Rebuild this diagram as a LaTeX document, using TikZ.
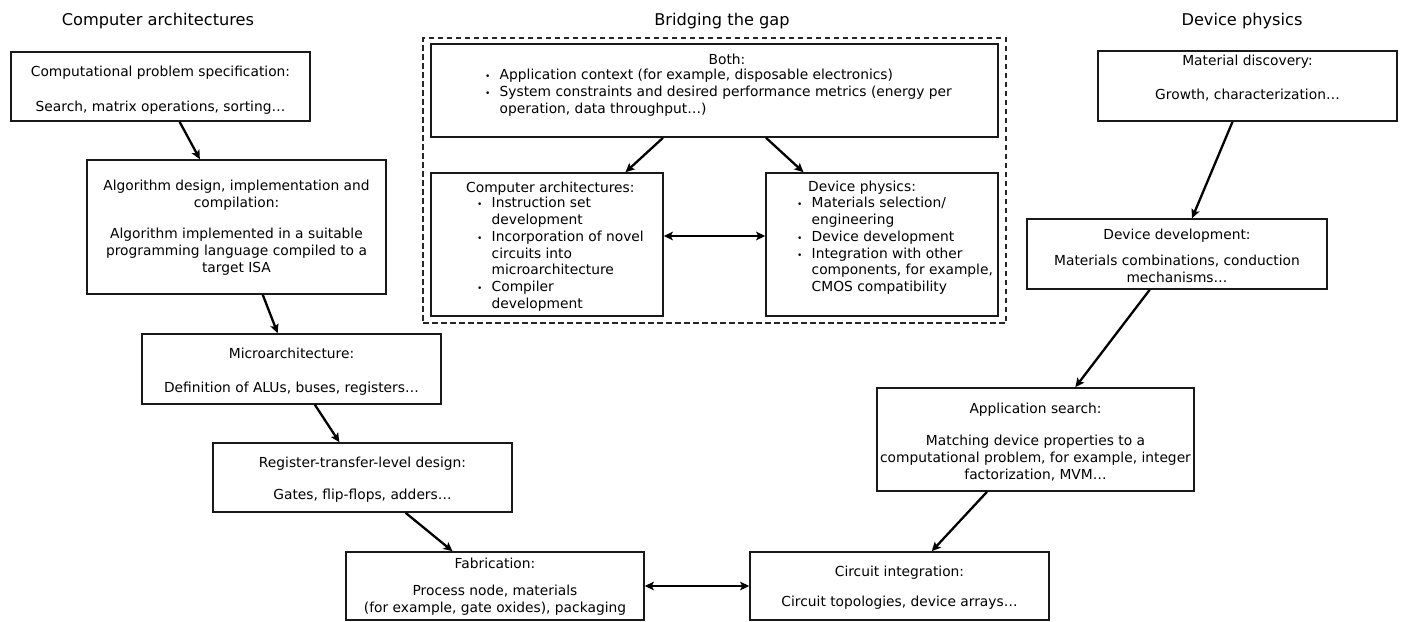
\documentclass[tikz,border=0pt]{standalone}
\usepackage{fontspec}
\setmainfont{DejaVu Sans}
\usetikzlibrary{arrows.meta}
\newcommand{\bodyf}{\fontsize{13.8}{17}\selectfont}
\newcommand{\listf}{\fontsize{13.8}{16.7}\selectfont}
\newcommand{\titlef}{\fontsize{16.2}{19}\selectfont}
\newcommand{\bu}{\makebox[14.5pt][l]{\fontsize{9}{9}\selectfont •}}
\newcommand{\ind}{\hspace*{14.5pt}}
\begin{document}
\begin{tikzpicture}[x=1pt,y=-1pt,
  box/.style={draw=black!90, line width=1.6pt, inner sep=0pt, rectangle},
  lab/.style={inner sep=0pt, align=center, anchor=north, font=\bodyf, yshift=-1.5pt, execute at begin node=\strut},
  lst/.style={inner sep=0pt, align=left, anchor=north west, font=\listf, yshift=-1pt, execute at begin node=\strut},
  ttl/.style={inner sep=0pt, anchor=base, font=\titlef},
  arr/.style={line width=2.3pt, -{Stealth[length=9pt,width=8.5pt,inset=2pt]}},
  dbl/.style={line width=2.3pt, {Stealth[length=9pt,width=8.5pt,inset=2pt]}-{Stealth[length=9pt,width=8.5pt,inset=2pt]}},
  dash box/.style={draw=black!85, line width=1.5pt, dash pattern=on 5.5pt off 3.5pt, inner sep=0pt, rectangle}
]
\fill[white] (0,0) rectangle (1404,621);

% titles
\node[ttl] (t1) at (158,25) {Computer architectures};
\node[ttl] (t2) at (722,25) {Bridging the gap};
\node[ttl] (t3) at (1242,25) {Device physics};

% left column boxes
\node[box, minimum width=299pt, minimum height=69pt] (b1) at (160.5,86.5) {};
\node[box, minimum width=299pt, minimum height=134pt] (b2) at (236.5,227) {};
\node[box, minimum width=299pt, minimum height=70pt] (b3) at (291.5,369) {};
\node[box, minimum width=299pt, minimum height=69pt] (b4) at (362.5,477.5) {};
\node[box, minimum width=298pt, minimum height=68pt] (b5) at (495,586) {};
% right column boxes
\node[box, minimum width=299pt, minimum height=68pt] (b6) at (899.5,586) {};
\node[box, minimum width=317pt, minimum height=103pt] (b7) at (1035.5,439.5) {};
\node[box, minimum width=300pt, minimum height=70pt] (b8) at (1177,254) {};
\node[box, minimum width=299pt, minimum height=70pt] (b9) at (1247.5,86) {};
% bridging
\node[dash box, minimum width=583pt, minimum height=285pt] (gap) at (714.5,180.5) {};
\node[box, minimum width=567pt, minimum height=93pt] (both) at (714.5,90.5) {};
\node[box, minimum width=232pt, minimum height=143pt] (ca) at (547,244.5) {};
\node[box, minimum width=232pt, minimum height=143pt] (dp) at (882,244.5) {};

% texts
\node[lab] (l1) at (160.5,64.1) {Computational problem specification:\\[18pt]Search, matrix operations, sorting…};
\node[lab] (l2) at (236.5,178.1) {Algorithm design, implementation and\\compilation:\\[14pt]Algorithm implemented in a suitable\\programming language compiled to a\\target ISA};
\node[lab] (l3) at (291.5,346.1) {Microarchitecture:\\[17pt]Definition of ALUs, buses, registers…};
\node[lab] (l4) at (362.5,455.1) {Register-transfer-level design:\\[15pt]Gates, flip-flops, adders…};
\node[lab] (l5) at (495,556.1) {Fabrication:\\[10pt]Process node, materials\\(for example, gate oxides), packaging};
\node[lab] (l6) at (899.5,564.1) {Circuit integration:\\[13pt]Circuit topologies, device arrays…};
\node[lab] (l7) at (1035.5,401.1) {Application search:\\[15pt]Matching device properties to a\\computational problem, for example, integer\\factorization, MVM…};
\node[lab] (l8) at (1177,227.1) {Device development:\\[9pt]Materials combinations, conduction\\mechanisms…};
\node[lab] (l9) at (1247.5,53.1) {Material discovery:\\[17pt]Growth, characterization…};

\node[lab, font=\listf] (lbh) at (727,51.3) {Both:};
\node[lst] (lbl) at (485,68.3) {\bu Application context (for example, disposable electronics)\\\bu System constraints and desired performance metrics (energy per\\\ind operation, data throughput…)};
\node[lst] (lcah) at (466,179.3) {Computer architectures:};
\node[lst] (lcal) at (477,196.3) {\bu Instruction set\\\ind development\\\bu Incorporation of novel\\\ind circuits into\\\ind microarchitecture\\\bu Compiler\\\ind development};
\node[lst] (ldph) at (808,178.3) {Device physics:};
\node[lst] (ldpl) at (797,196.3) {\bu Materials selection/\\\ind engineering\\\bu Device development\\\bu Integration with other\\\ind components, for example,\\\ind CMOS compatibility};

% connectors
\draw[arr] (b1) -- (b2);
\draw[arr] (b2) -- (b3);
\draw[arr] (b3) -- (b4);
\draw[arr] (b4) -- (b5);
\draw[dbl] (b5) -- (b6);
\draw[arr] (b9) -- (b8);
\draw[arr] (b8) -- (b7);
\draw[arr] (b7) -- (b6);
\draw[arr] (both) -- (ca);
\draw[arr] (both) -- (dp);
\draw[dbl] ([yshift=8.5pt]ca.east) -- ([yshift=8.5pt]dp.west);
\end{tikzpicture}
\end{document}
